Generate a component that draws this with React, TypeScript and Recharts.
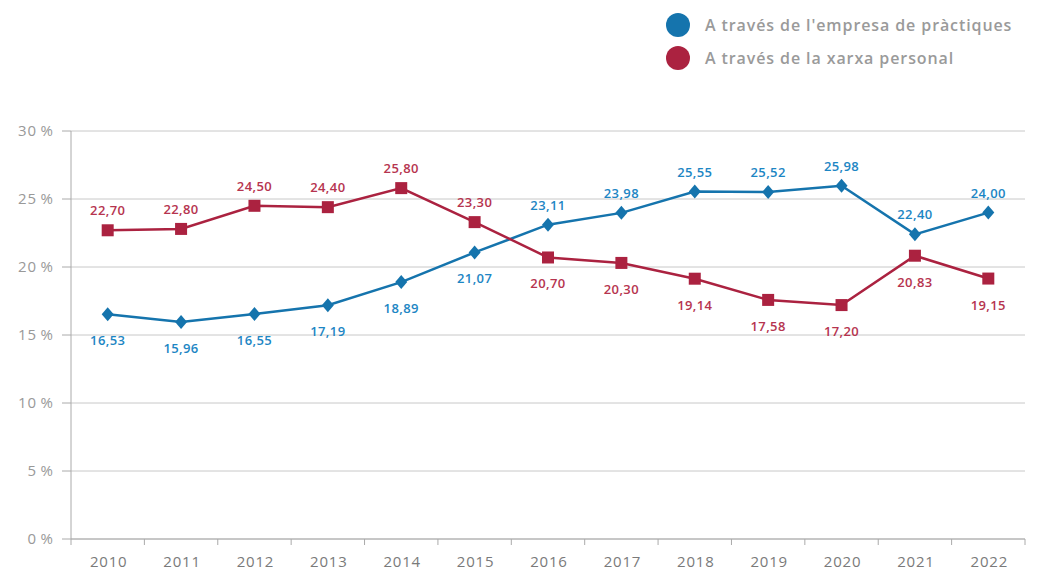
import { LineChart, Line, XAxis, YAxis, CartesianGrid, LabelList } from 'recharts'

const years = ['2010', '2011', '2012', '2013', '2014', '2015', '2016', '2017', '2018', '2019', '2020', '2021', '2022']
const empresa = [16.53, 15.96, 16.55, 17.19, 18.89, 21.07, 23.11, 23.98, 25.55, 25.52, 25.98, 22.4, 24.0]
const xarxa = [22.7, 22.8, 24.5, 24.4, 25.8, 23.3, 20.7, 20.3, 19.14, 17.58, 17.2, 20.83, 19.15]
const yTicks = [0, 5, 10, 15, 20, 25, 30]

const nomEmpresa = "A través de l'empresa de pràctiques"
const nomXarxa = 'A través de la xarxa personal'

// quins rètols van per sota del punt
const empresaBelow = [true, true, true, true, true, true, false, false, false, false, false, false, false]
const xarxaBelow = [false, false, false, false, false, false, true, true, true, true, true, true, true]

const data = years.map((year, i) => ({ year, empresa: empresa[i], xarxa: xarxa[i] }))

const BLUE = '#1574ad'
const BLUE_TXT = '#1d86c4'
const RED = '#ab2240'
const RED_TXT = '#b6344f'
const FONT = '"Open Sans", sans-serif'

const fmt = (v: number) => v.toFixed(2).replace('.', ',')

function Diamond(props: any) {
  const { cx, cy } = props
  if (cx == null || cy == null) return null
  return <path d={`M${cx},${cy - 7} L${cx + 6},${cy} L${cx},${cy + 7} L${cx - 6},${cy} Z`} fill={BLUE} />
}

function Square(props: any) {
  const { cx, cy } = props
  if (cx == null || cy == null) return null
  return <rect x={cx - 6} y={cy - 6} width={12} height={12} fill={RED} />
}

const makeLabel = (below: boolean[], color: string) => (props: any) => {
  const { x, y, value, index } = props
  const dy = below[index] ? 31 : -15
  return (
    <text
      x={x}
      y={y + dy}
      textAnchor="middle"
      fill={color}
      fontSize={13}
      fontWeight={600}
      letterSpacing={0.4}
      fontFamily={FONT}
    >
      {fmt(value)}
    </text>
  )
}

function YearTick(props: any) {
  const { x, y, payload, index, width, visibleTicksCount } = props
  const bw = width && visibleTicksCount ? width / visibleTicksCount : 73.4
  return (
    <g>
      <line x1={x - bw / 2} y1={y} x2={x - bw / 2} y2={y + 6} stroke="#aaa" />
      {index === visibleTicksCount - 1 && <line x1={x + bw / 2} y1={y} x2={x + bw / 2} y2={y + 6} stroke="#aaa" />}
      <text
        x={x + 1}
        y={y + 28}
        textAnchor="middle"
        fill="#7a7a7a"
        fontSize={15}
        fontWeight={500}
        letterSpacing={0.8}
        fontFamily={FONT}
      >
        {payload.value}
      </text>
    </g>
  )
}

function LegendBox() {
  const items = [
    { name: nomEmpresa, color: BLUE },
    { name: nomXarxa, color: RED },
  ]
  return (
    <svg width={400} height={80} style={{ position: 'absolute', left: 640, top: 0 }}>
      {items.map((it, i) => (
        <g key={it.name}>
          <circle cx={38} cy={25 + i * 33} r={12} fill={it.color} />
          <text
            x={65}
            y={31 + i * 33}
            fill="#9a9a9a"
            fontSize={16}
            fontWeight={600}
            letterSpacing={0.9}
            fontFamily={FONT}
          >
            {it.name}
          </text>
        </g>
      ))}
    </svg>
  )
}

export default function App() {
  return (
    <div style={{ position: 'absolute', left: 0, top: 0, width: 1043, height: 572, background: '#fff' }}>
      <LineChart width={1043} height={572} data={data} margin={{ top: 131, right: 18, bottom: 0, left: 0 }}>
        <CartesianGrid vertical={false} stroke="#c8c8c8" />
        <XAxis
          dataKey="year"
          scale="band"
          height={33}
          tickLine={false}
          tickSize={0}
          tickMargin={0}
          stroke="#aaa"
          tick={<YearTick />}
          interval={0}
        />
        <YAxis
          width={71}
          domain={[0, 30]}
          ticks={yTicks}
          tickFormatter={(v: number) => `${v}\u2009%`}
          tickSize={9}
          tickMargin={8}
          stroke="#aaa"
          tick={{ fill: '#999', fontSize: 15, fontWeight: 500, letterSpacing: 1, fontFamily: FONT }}
        />
        <Line
          dataKey="empresa"
          name={nomEmpresa}
          stroke={BLUE}
          strokeWidth={2.5}
          dot={<Diamond />}
          activeDot={false}
          isAnimationActive={false}
        >
          <LabelList dataKey="empresa" content={makeLabel(empresaBelow, BLUE_TXT)} />
        </Line>
        <Line
          dataKey="xarxa"
          name={nomXarxa}
          stroke={RED}
          strokeWidth={2.5}
          dot={<Square />}
          activeDot={false}
          isAnimationActive={false}
        >
          <LabelList dataKey="xarxa" content={makeLabel(xarxaBelow, RED_TXT)} />
        </Line>
      </LineChart>
      <LegendBox />
    </div>
  )
}
